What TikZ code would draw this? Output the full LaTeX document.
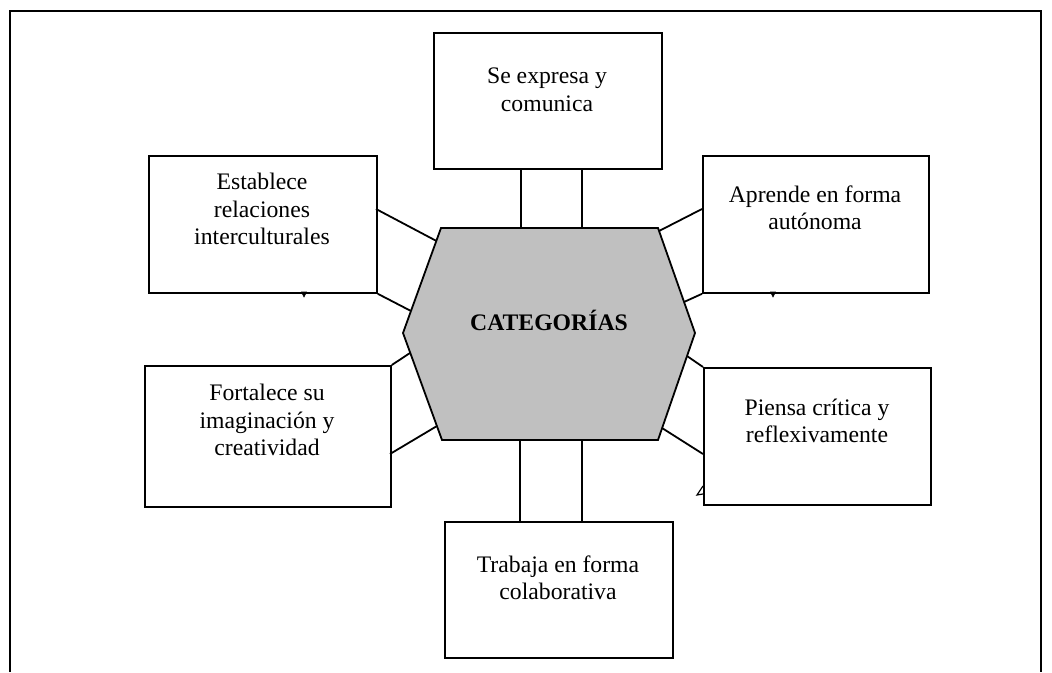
\documentclass[tikz,border=0pt]{standalone}
\usepackage{fontspec}
\setmainfont{Liberation Serif}
\definecolor{hexgray}{HTML}{C0C0C0}
\begin{document}
\begin{tikzpicture}[x=1pt,y=-1pt,
  line width=1.8pt,
  catbox/.style={draw=black, line width=1.8pt, rectangle, inner sep=0pt, anchor=north west},
  cattext/.style={align=center, inner sep=0pt, font=\fontsize{23.7}{27.5}\selectfont},
  link/.style={draw=black, line width=1.8pt},
  tick/.style={fill=black, draw=black, line width=0.6pt}]
\useasboundingbox (0,0) rectangle (1052,672);
% outer frame (open at bottom)
\draw[line width=1.8pt] (10,672) -- (10,11) -- (1041,11) -- (1041,672);

% boxes
\node[catbox, minimum width=228pt, minimum height=136pt] (top) at (433,32) {};
\node[catbox, minimum width=228pt, minimum height=137pt] (est) at (148,155) {};
\node[catbox, minimum width=226pt, minimum height=137pt] (apr) at (702,155) {};
\node[catbox, minimum width=246pt, minimum height=141pt] (for) at (144,365) {};
\node[catbox, minimum width=227pt, minimum height=137pt] (pie) at (703,367) {};
\node[catbox, minimum width=228pt, minimum height=136pt] (tra) at (444,521) {};

% texts
\node[cattext] (ttop) at (547,90) {Se expresa y\\comunica};
\node[cattext] (test) at (262,209) {Establece\\relaciones\\interculturales};
\node[cattext] (tapr) at (815,208) {Aprende en forma\\autónoma};
\node[cattext] (tfor) at (267,420) {Fortalece su\\imaginación y\\creatividad};
\node[cattext] (tpie) at (817,421) {Piensa crítica y\\reflexivamente};
\node[cattext] (ttra) at (558,578) {Trabaja en forma\\colaborativa};

% hexagon
\coordinate (h1) at (441,228);
\coordinate (h2) at (658,228);
\coordinate (h3) at (695,333);
\coordinate (h4) at (658,440);
\coordinate (h5) at (442,440);
\coordinate (h6) at (403,333);
\filldraw[fill=hexgray, draw=black, line width=1.8pt, line join=miter] (h1) -- (h2) -- (h3) -- (h4) -- (h5) -- (h6) -- cycle;
\node[font=\fontsize{23.7}{27.5}\selectfont\bfseries, inner sep=0pt] (cat) at (549,320) {CATEGORÍAS};

% connection points on hexagon
\coordinate (ht1) at (521,228);
\coordinate (ht2) at (582,228);
\coordinate (hb1) at (520,440);
\coordinate (hb2) at (582,440);
\coordinate (hul1) at (436.5,241);
\coordinate (hul2) at (411,311);
\coordinate (hur1) at (659,231);
\coordinate (hur2) at (684,302);
\coordinate (hlr1) at (687,356);
\coordinate (hlr2) at (662,428);
\coordinate (hll1) at (410,353);
\coordinate (hll2) at (437,426);

% box connection points
\coordinate (tb1) at (521,168);
\coordinate (tb2) at (582,168);
\coordinate (bt1) at (520,521);
\coordinate (bt2) at (582,521);
\coordinate (e1) at (376,209);
\coordinate (a1) at (702,209);
\coordinate (p2) at (703,454);
\coordinate (f2) at (390,454);

% connectors
\draw[link] (tb1) -- (ht1);
\draw[link] (tb2) -- (ht2);
\draw[link] (hb1) -- (bt1);
\draw[link] (hb2) -- (bt2);
\draw[link] (e1) -- (hul1);
\draw[link] (est.south east) -- (hul2);
\draw[link] (a1) -- (hur1);
\draw[link] (apr.south west) -- (hur2);
\draw[link] (pie.north west) -- (hlr1);
\draw[link] (p2) -- (hlr2);
\draw[link] (for.north east) -- (hll1);
\draw[link] (f2) -- (hll2);

% small callout remnants
\coordinate (k1) at (304,292);
\coordinate (k2) at (773,292);
\coordinate (k3) at (703,486);
\draw[tick] (k1) ++(-2.5,0) -- ++(5,0) -- ++(-2.5,5) -- cycle;
\draw[tick] (k2) ++(-2.5,0) -- ++(5,0) -- ++(-2.5,5) -- cycle;
\draw[line width=1.2pt] (k3) -- ++(-6,9) -- ++(6,-1);
\end{tikzpicture}
\end{document}
